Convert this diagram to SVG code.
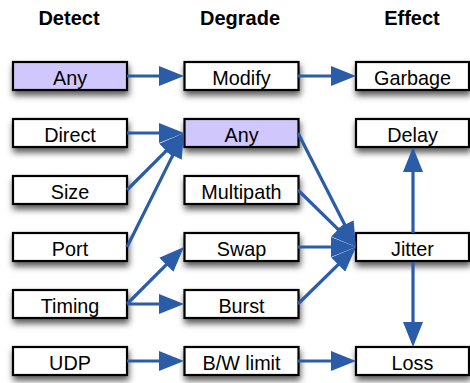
<svg xmlns="http://www.w3.org/2000/svg" width="470" height="383" viewBox="0 0 470 383">
<style>
.hdr{font-family:"Liberation Sans",Arial,sans-serif;font-weight:bold;font-size:20px;fill:#000;text-anchor:middle}
.box{fill:#fff;stroke:#000;stroke-width:2.2;filter:url(#sh)}
.sel{fill:#d0c8fd}
.lbl{font-family:"Liberation Sans",Arial,sans-serif;font-size:19.8px;fill:#000;text-anchor:middle}
.con line{stroke:#2b5ca8;stroke-width:3.2;marker-end:url(#ah)}
</style>
<defs>
<filter id="sh" x="-20%" y="-40%" width="140%" height="200%">
<feDropShadow dx="1" dy="4.5" stdDeviation="3" flood-color="#000" flood-opacity="0.65"/>
</filter>
<marker id="ah" markerUnits="userSpaceOnUse" markerWidth="26" markerHeight="20" refX="15" refY="10" orient="auto" viewBox="0 0 26 20">
<path d="M0,0 L25,10 L0,20 z" fill="#2b5ca8"/>
</marker>
</defs>
<text class="hdr" x="69" y="25">Detect</text>
<text class="hdr" x="240" y="25">Degrade</text>
<text class="hdr" x="412" y="25">Effect</text>

<g id="det-any"><rect class="box sel" x="13" y="62" width="114" height="28"/><text class="lbl" x="70" y="84.5">Any</text></g>
<g id="det-direct"><rect class="box" x="13" y="119" width="114" height="28"/><text class="lbl" x="70" y="141.5">Direct</text></g>
<g id="det-size"><rect class="box" x="13" y="176" width="114" height="28"/><text class="lbl" x="70" y="198.5">Size</text></g>
<g id="det-port"><rect class="box" x="13" y="233" width="114" height="28"/><text class="lbl" x="70" y="255.5">Port</text></g>
<g id="det-timing"><rect class="box" x="13" y="290" width="114" height="28"/><text class="lbl" x="70" y="312.5">Timing</text></g>
<g id="det-udp"><rect class="box" x="13" y="347" width="114" height="28"/><text class="lbl" x="70" y="369.5">UDP</text></g>

<g id="deg-modify"><rect class="box" x="184.5" y="62" width="114" height="28"/><text class="lbl" x="241.5" y="84.5">Modify</text></g>
<g id="deg-any"><rect class="box sel" x="184.5" y="119" width="114" height="28"/><text class="lbl" x="241.5" y="141.5">Any</text></g>
<g id="deg-multipath"><rect class="box" x="184.5" y="176" width="114" height="28"/><text class="lbl" x="241.5" y="198.5">Multipath</text></g>
<g id="deg-swap"><rect class="box" x="184.5" y="233" width="114" height="28"/><text class="lbl" x="241.5" y="255.5">Swap</text></g>
<g id="deg-burst"><rect class="box" x="184.5" y="290" width="114" height="28"/><text class="lbl" x="241.5" y="312.5">Burst</text></g>
<g id="deg-bwlimit"><rect class="box" x="184.5" y="347" width="114" height="28"/><text class="lbl" x="241.5" y="369.5">B/W limit</text></g>

<g id="eff-garbage"><rect class="box" x="356" y="62" width="113" height="28"/><text class="lbl" x="412.5" y="84.5">Garbage</text></g>
<g id="eff-delay"><rect class="box" x="356" y="119" width="113" height="28"/><text class="lbl" x="412.5" y="141.5">Delay</text></g>
<g id="eff-jitter"><rect class="box" x="356" y="233" width="113" height="28"/><text class="lbl" x="412.5" y="255.5">Jitter</text></g>
<g id="eff-loss"><rect class="box" x="356" y="347" width="113" height="28"/><text class="lbl" x="412.5" y="369.5">Loss</text></g>

<g id="connectors" class="con">
<line x1="127" y1="76" x2="174" y2="76"/>
<line x1="298" y1="76" x2="346" y2="76"/>
<line x1="127" y1="133" x2="174" y2="133"/>
<line x1="127" y1="190" x2="176.9" y2="140.1"/>
<line x1="127" y1="247" x2="179.5" y2="141.9"/>
<line x1="298" y1="133" x2="351.5" y2="238.1"/>
<line x1="298" y1="190" x2="348.9" y2="239.9"/>
<line x1="298" y1="247" x2="346" y2="247"/>
<line x1="298" y1="304" x2="348.9" y2="254.1"/>
<line x1="127" y1="304" x2="176.9" y2="254.1"/>
<line x1="127" y1="304" x2="174" y2="304"/>
<line x1="127" y1="361" x2="174" y2="361"/>
<line x1="298" y1="361" x2="346" y2="361"/>
<line x1="413" y1="233" x2="413" y2="157"/>
<line x1="413" y1="262" x2="413" y2="337"/>
</g>
</svg>
